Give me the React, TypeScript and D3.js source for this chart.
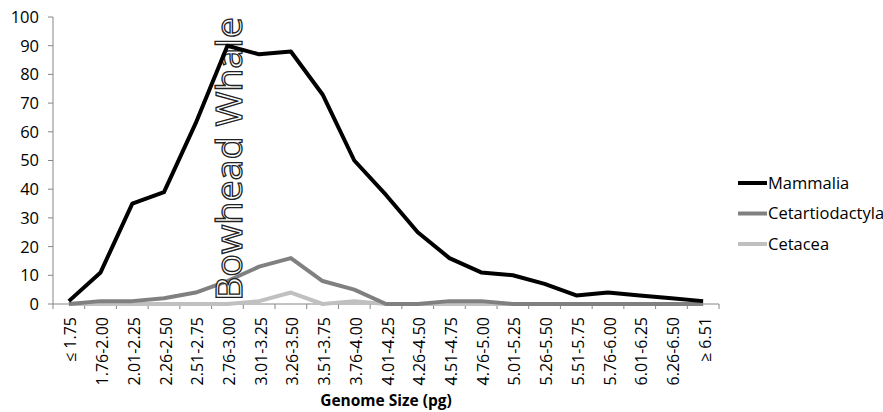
import React from "react";
import { scaleBand, scaleLinear, line } from "d3";

const categories = [
  "≤ 1.75", "1.76-2.00", "2.01-2.25", "2.26-2.50", "2.51-2.75", "2.76-3.00",
  "3.01-3.25", "3.26-3.50", "3.51-3.75", "3.76-4.00", "4.01-4.25", "4.26-4.50",
  "4.51-4.75", "4.76-5.00", "5.01-5.25", "5.26-5.50", "5.51-5.75", "5.76-6.00",
  "6.01-6.25", "6.26-6.50", "≥ 6.51",
];

const mammalia = [1, 11, 35, 39, 63, 90, 87, 88, 73, 50, 38, 25, 16, 11, 10, 7, 3, 4, 3, 2, 1];
const cetartiodactyla = [0, 1, 1, 2, 4, 8, 13, 16, 8, 5, 0, 0, 1, 1, 0, 0, 0, 0, 0, 0, 0];
const cetacea = [0, 0, 0, 0, 0, 0, 1, 4, 0, 1, 0, 0, 0, 0, 0, 0, 0, 0, 0, 0, 0];

const yTicks = [0, 10, 20, 30, 40, 50, 60, 70, 80, 90, 100];

const series = [
  { name: "Mammalia", values: mammalia, color: "#000000" },
  { name: "Cetartiodactyla", values: cetartiodactyla, color: "#808080" },
  { name: "Cetacea", values: cetacea, color: "#c0c0c0" },
];

const font = "'Open Sans', sans-serif";
const axisColor = "#868686";

export default function App() {
  const left = 53, right = 719, top = 17, bottom = 304;

  const x = scaleBand().domain(categories).range([left, right]);
  const y = scaleLinear().domain([0, 100]).range([bottom, top]);

  const path = line<number>()
    .x((d, i) => x(categories[i])! + x.bandwidth() / 2)
    .y((d) => y(d));

  const bowX = x(categories[5])! + x.bandwidth() / 2;

  return (
    <svg width={883} height={412} style={{ position: "absolute", left: 0, top: 0 }}>
      <rect width={883} height={412} fill="#fff" />

      {/* y axis */}
      <line x1={left} x2={left} y1={top} y2={bottom} stroke={axisColor} />
      {yTicks.map((t) => (
        <g key={t}>
          <line x1={left - 5} x2={left} y1={y(t)} y2={y(t)} stroke={axisColor} />
          <text x={left - 14} y={y(t)} dy="0.36em" textAnchor="end"
            fontFamily={font} fontSize={16.5} fill="#000">{t}</text>
        </g>
      ))}

      {/* x axis */}
      <line x1={left} x2={right} y1={bottom} y2={bottom} stroke={axisColor} />
      {categories.map((c) => (
        <line key={"t" + c} x1={x(c)!} x2={x(c)!} y1={bottom} y2={bottom + 5} stroke={axisColor} />
      ))}
      <line x1={right} x2={right} y1={bottom} y2={bottom + 5} stroke={axisColor} />
      {categories.map((c) => {
        const cx = x(c)! + x.bandwidth() / 2;
        return (
          <text key={c} transform={`translate(${cx + 7.5},${bottom + 13}) rotate(-90)`}
            textAnchor="end" fontFamily={font} fontSize={16} fill="#000">{c}</text>
        );
      })}
      <text x={(left + right) / 2} y={406} textAnchor="middle" fontFamily={font}
        fontSize={15.5} fontWeight="bold" fill="#000">Genome Size (pg)</text>

      {/* lower series */}
      {series.slice(1).reverse().map((s) => (
        <path key={s.name} d={path(s.values)!} fill="none" stroke={s.color}
          strokeWidth={4} strokeLinejoin="round" />
      ))}

      {/* annotation */}
      <text transform={`translate(${bowX + 14.5},${bottom - 3}) rotate(-90)`}
        fontFamily={font} fontSize={37} fill="#fff" stroke="#222" strokeWidth={1.3}
        textLength={284} lengthAdjust="spacingAndGlyphs">Bowhead Whale</text>

      <path d={path(mammalia)!} fill="none" stroke="#000" strokeWidth={4} strokeLinejoin="round" />

      {/* legend */}
      {series.map((s, i) => (
        <g key={"l" + s.name} transform={`translate(738,${183 + i * 30.5})`}>
          <line x1={0} x2={29} y1={0} y2={0} stroke={s.color} strokeWidth={4} />
          <text x={30} y={0} dy="0.36em" fontFamily={font} fontSize={16.5} fill="#000">{s.name}</text>
        </g>
      ))}
    </svg>
  );
}
